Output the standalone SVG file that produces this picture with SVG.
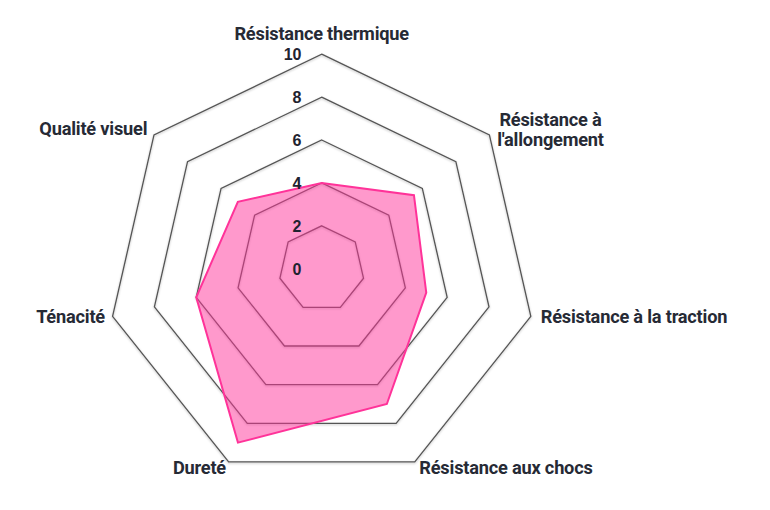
<svg xmlns="http://www.w3.org/2000/svg" width="770" height="510" viewBox="0 0 770 510">
  <defs>
    <filter id="sh" x="-10%" y="-10%" width="120%" height="120%">
      <feDropShadow dx="0" dy="1" stdDeviation="1" flood-color="#000000" flood-opacity="0.25"/>
    </filter>
    <style>
      .ring { fill: none; stroke: #555555; stroke-width: 1.3; stroke-linejoin: miter; }
      .data { fill: #ff3399; fill-opacity: 0.5; stroke: #ff3399; stroke-width: 2; stroke-linejoin: miter; }
      .lbl { font-family: Roboto, "Liberation Sans", sans-serif; font-weight: bold; font-size: 18.2px; fill: #262a35; letter-spacing: -0.2px; }
      .tick { font-family: "Liberation Sans", Arial, sans-serif; font-weight: bold; font-size: 16px; fill: #1f2330; text-anchor: end; }
    </style>
  </defs>
  <rect width="770" height="510" fill="#ffffff"/>

  <g id="grid" filter="url(#sh)">
    <polygon class="ring" points="321.7,54.2 489.4,134.96 530.82,316.43 414.77,461.96 228.63,461.96 112.58,316.43 154,134.96"/>
    <polygon class="ring" points="321.7,97.1 455.86,161.71 489,306.88 396.15,423.31 247.25,423.31 154.4,306.88 187.54,161.71"/>
    <polygon class="ring" points="321.7,140 422.32,188.46 447.17,297.34 377.54,384.65 265.86,384.65 196.23,297.34 221.08,188.46"/>
    <polygon class="ring" points="321.7,182.9 388.78,215.2 405.35,287.79 358.93,346 284.47,346 238.05,287.79 254.62,215.2"/>
    <polygon class="ring" points="321.7,225.8 355.24,241.95 363.52,278.25 340.31,307.35 303.09,307.35 279.88,278.25 288.16,241.95"/>
  </g>

  <g id="series">
    <polygon class="data" points="321.7,182.9 413.94,195.14 426.26,292.57 386.85,403.98 237.94,442.63 196.23,297.34 237.85,201.83"/>
  </g>

  <g id="ticks">
    <text class="tick" x="301.5" y="60">10</text>
    <text class="tick" x="301.5" y="103">8</text>
    <text class="tick" x="301.5" y="146">6</text>
    <text class="tick" x="301.5" y="189">4</text>
    <text class="tick" x="301.5" y="232">2</text>
    <text class="tick" x="301.5" y="275">0</text>
  </g>

  <g id="axis-thermique"><text class="lbl" x="321.7" y="39.7" text-anchor="middle">Résistance thermique</text></g>
  <g id="axis-allongement">
    <text class="lbl" x="550.5" y="126" text-anchor="middle">Résistance à</text>
    <text class="lbl" x="550.5" y="146" text-anchor="middle">l'allongement</text>
  </g>
  <g id="axis-traction"><text class="lbl" x="540.7" y="323.3">Résistance à la traction</text></g>
  <g id="axis-chocs"><text class="lbl" x="419.3" y="474">Résistance aux chocs</text></g>
  <g id="axis-durete"><text class="lbl" x="226" y="474" text-anchor="end">Dureté</text></g>
  <g id="axis-tenacite"><text class="lbl" x="105" y="322.7" text-anchor="end">Ténacité</text></g>
  <g id="axis-qualite"><text class="lbl" x="147.3" y="135" text-anchor="end">Qualité visuel</text></g>
</svg>
